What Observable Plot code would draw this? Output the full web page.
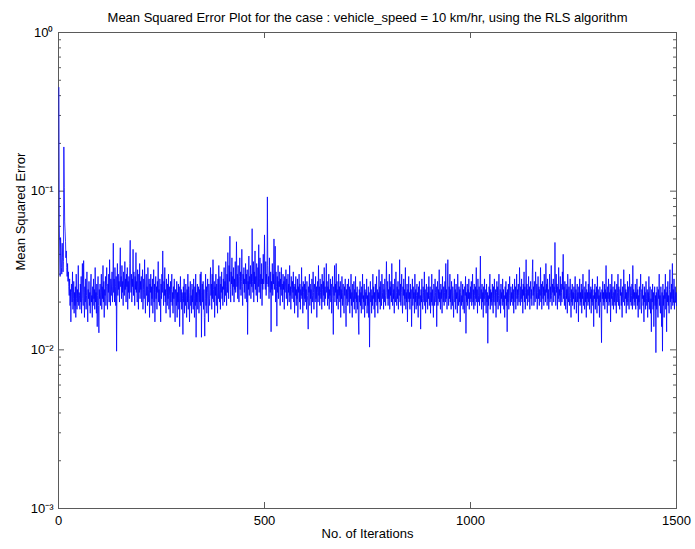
<!DOCTYPE html>
<html>
<head>
<meta charset="utf-8">
<script src="https://cdn.jsdelivr.net/npm/d3@7"></script>
<script src="https://cdn.jsdelivr.net/npm/@observablehq/plot@0.6"></script>
<style>
  html, body { margin: 0; padding: 0; background: #fff; }
  #chart { width: 695px; height: 549px; }
</style>
</head>
<body>
<div id="chart"></div>
<script>
const titleText = "Mean Squared Error Plot for the case : vehicle_speed = 10 km/hr, using the RLS algorithm";
const xLabel = "No. of Iterations";
const yLabel = "Mean Squared Error";
const xTickValues = [0, 500, 1000, 1500];
const yTickValues = [1e-3, 1e-2, 1e-1, 1];
const yTickLabels = ["10⁻³", "10⁻²", "10⁻¹", "10⁰"];

// Mean squared error per iteration, in units of 1e-4
const mseE4 = [
4500,620,400,290,510,440,330,300,470,380,310,360,1900,1050,640,560,480,380,420,330,290,350,270,310,250,220,280,190,240,150,230,260,200,310,180,210,270,170,230,190,250,160,300,210,180,240,200,340,190,230,
220,180,260,200,290,170,240,350,210,190,365,230,160,250,200,280,180,220,310,200,150,240,210,270,190,230,170,260,300,200,220,160,250,190,280,210,240,180,330,200,230,170,260,140,220,290,190,128,240,210,
260,190,230,300,180,250,210,340,200,270,160,240,220,290,190,250,330,210,180,260,230,300,200,370,240,190,280,220,260,310,200,250,470,230,280,200,330,250,190,290,98,260,350,220,300,240,270,200,320,440,
250,290,210,340,230,270,190,310,260,220,360,240,280,200,300,250,330,180,270,230,290,210,350,490,260,230,300,200,280,250,430,220,310,260,190,290,240,410,230,270,200,320,250,180,300,230,350,210,270,240,
290,200,260,320,180,240,280,210,370,230,170,260,300,220,250,190,330,240,200,280,160,260,230,300,190,250,210,280,170,240,320,200,260,150,230,290,210,250,180,270,230,360,200,240,190,280,220,150,260,210,
300,230,420,250,190,270,220,330,200,240,170,280,230,190,260,210,300,180,250,220,160,270,200,240,300,190,230,170,250,210,280,200,150,240,220,190,270,160,230,200,260,180,250,140,220,290,200,240,180,230,
210,125,250,200,280,170,230,190,260,220,160,240,200,300,180,250,210,150,230,270,190,220,170,260,200,240,180,280,210,160,250,190,300,120,230,200,260,180,220,250,170,240,200,300,190,310,120,230,260,200,
270,180,240,160,122,210,300,190,250,170,230,280,200,150,260,210,190,240,330,220,260,180,300,210,370,240,200,270,160,250,220,300,190,260,230,170,280,210,340,240,200,290,180,260,230,310,210,250,190,280,
240,330,200,270,220,360,250,190,300,230,410,260,210,340,270,520,240,200,310,260,380,220,290,250,330,200,280,240,360,230,270,480,250,300,210,340,260,200,290,380,240,310,220,270,430,250,190,300,260,330,
230,280,210,350,260,300,200,320,125,270,240,390,220,290,260,340,210,300,250,580,270,230,360,200,310,260,420,240,290,220,350,270,200,330,250,460,230,280,380,210,300,260,350,190,280,240,400,260,310,530,
280,240,360,220,300,260,920,340,250,290,210,380,260,230,310,130,270,240,350,220,300,260,500,240,280,450,200,310,250,141,290,230,340,210,270,250,310,190,280,240,330,220,260,200,300,240,270,180,290,230,
260,320,210,280,240,190,300,230,260,200,340,220,250,180,290,240,210,270,230,310,200,250,170,260,220,290,190,240,210,280,160,250,230,300,200,260,180,240,220,330,210,250,170,270,230,190,260,210,290,200,
240,180,270,220,200,135,250,230,300,190,260,210,240,170,280,220,200,310,230,180,260,240,200,290,210,250,160,230,270,200,340,220,250,190,280,230,210,260,180,300,240,200,270,220,330,190,250,210,240,350,
230,270,190,250,210,300,180,240,220,280,200,260,170,230,290,210,125,250,220,340,200,260,230,350,190,270,210,240,180,300,220,250,200,270,160,240,210,290,190,230,260,200,170,250,220,280,190,140,240,210,
260,190,230,280,200,250,170,240,210,300,190,230,160,260,220,200,270,180,240,210,290,170,230,200,250,180,220,150,125,240,200,270,190,230,170,250,210,300,180,220,200,260,160,240,190,230,210,280,170,220,
190,250,160,230,104,210,270,200,240,170,220,190,300,210,250,180,230,160,260,200,220,290,190,240,170,230,210,320,200,250,180,270,220,190,300,230,210,260,180,240,200,280,220,190,250,360,230,210,270,190,
240,210,300,180,250,220,270,200,350,230,190,260,210,240,170,280,220,200,310,230,190,250,210,270,180,240,220,370,200,260,190,230,300,210,170,250,220,280,190,240,210,330,180,230,200,260,150,240,210,290,
200,230,180,260,210,240,140,220,280,190,250,210,230,170,300,200,240,180,220,260,190,230,160,250,210,270,190,220,135,240,200,280,210,180,250,230,200,310,190,240,170,220,260,200,230,180,250,210,290,190,
220,250,170,230,200,300,190,240,210,160,260,220,190,280,230,200,250,140,220,270,190,240,210,320,200,230,180,260,210,240,170,290,220,200,250,190,230,270,200,350,210,240,180,260,370,220,190,250,210,300,
200,240,180,270,220,190,250,210,160,230,280,200,240,180,260,210,230,170,300,220,190,250,200,240,150,230,270,190,220,200,260,180,240,210,170,250,220,290,127,230,200,260,190,240,210,280,180,230,200,250,
210,270,190,230,300,200,240,180,260,220,190,250,210,330,200,240,170,280,220,200,250,190,230,390,210,240,180,260,200,230,160,250,210,280,190,220,240,170,260,200,230,110,220,190,250,210,300,180,240,200,
230,190,260,210,170,250,200,280,220,190,240,160,230,270,200,250,180,220,300,210,190,240,170,260,210,230,190,280,200,240,180,220,160,250,210,270,190,230,130,240,200,260,180,220,290,210,190,250,200,230,
210,260,190,240,170,230,280,200,250,180,220,300,210,240,190,260,220,200,330,230,190,250,210,280,200,240,170,260,220,310,200,250,180,230,370,210,260,190,240,220,290,200,250,180,230,270,210,240,190,300,
370,220,250,190,270,230,200,310,240,210,260,180,230,290,210,250,190,240,220,330,200,260,180,230,270,210,250,190,300,220,240,200,350,230,260,190,280,210,240,180,230,300,200,250,210,340,220,190,260,230,
280,200,250,220,475,240,190,300,230,260,180,250,210,330,200,240,220,290,190,260,230,200,310,240,400,210,250,190,270,220,180,260,210,240,170,300,220,200,250,190,230,280,210,160,240,200,260,190,230,210,
250,180,230,290,200,240,170,220,260,200,230,150,250,210,280,190,230,200,260,170,240,210,300,190,220,250,180,230,200,270,160,240,210,230,190,260,200,320,180,230,210,250,170,240,200,280,190,220,140,240,
210,260,180,230,200,250,170,290,210,240,190,220,160,250,200,230,180,111,240,210,270,190,230,200,260,180,240,210,340,200,230,170,250,210,280,190,230,200,260,150,240,210,300,190,220,250,180,230,200,270,
190,240,210,170,260,200,230,300,190,250,210,180,240,220,280,190,230,160,250,210,200,320,220,190,260,210,240,170,230,200,270,190,250,210,180,300,230,200,250,190,220,260,180,340,210,240,190,230,200,260,
180,230,210,280,190,240,160,220,200,250,180,230,300,200,170,240,210,260,190,220,150,250,200,230,180,270,210,190,240,160,230,200,290,180,220,250,170,210,130,240,200,260,180,230,140,210,250,190,220,96,
230,180,250,200,160,240,210,300,190,220,170,250,200,140,230,98,260,190,220,160,240,210,300,180,230,130,250,200,270,190,220,170,240,320,200,230,180,260,210,350,190,240,200,280,180,220,250,200,230,190
];

const data = mseE4.map((v, k) => ({iteration: k + 1, mse: v / 1e4}));

const yMajorInner = [1e-2, 1e-1];
const yMinor = [1e-3, 1e-2, 1e-1].flatMap(d => [2,3,4,5,6,7,8,9].map(m => m * d));
const xInner = [500, 1000];

const W = 695, H = 549;
const mL = 58, mR = 19, mT = 32, mB = 41;
const fw = W - mL - mR, fh = H - mT - mB;
const axisColor = "#5a5a5a";

const chart = Plot.plot({
  width: W,
  height: H,
  marginLeft: mL,
  marginRight: mR,
  marginTop: mT,
  marginBottom: mB,
  style: {fontFamily: "'Liberation Sans', Arial, sans-serif", fontSize: "13px", background: "#fff", color: "#000"},
  x: {domain: [0, 1500], ticks: xTickValues, label: null},
  y: {type: "log", domain: [1e-3, 1], ticks: yTickValues, label: null},
  marks: [
    // inward ticks (MATLAB style)
    Plot.tickX(xInner, {x: d => d, insetTop: fh - 6, stroke: axisColor}),
    Plot.tickX(xInner, {x: d => d, insetBottom: fh - 6, stroke: axisColor}),
    Plot.tickY(yMajorInner, {y: d => d, insetRight: fw - 6, stroke: axisColor}),
    Plot.tickY(yMajorInner, {y: d => d, insetLeft: fw - 6, stroke: axisColor}),
    Plot.tickY(yMinor, {y: d => d, insetRight: fw - 3, stroke: axisColor}),
    Plot.tickY(yMinor, {y: d => d, insetLeft: fw - 3, stroke: axisColor}),
    Plot.frame({stroke: axisColor}),
    Plot.line(data, {x: "iteration", y: "mse", stroke: "#0000ff", strokeWidth: 0.8}),
    Plot.axisX({ticks: xTickValues, tickSize: 0, tickPadding: 7, tickFormat: d => String(d), label: null, fontSize: 13}),
    Plot.axisY({ticks: yTickValues, tickSize: 0, tickPadding: 5, tickFormat: d => yTickLabels[yTickValues.indexOf(d)], label: null, fontSize: 13}),
    Plot.text([titleText], {text: d => d, frameAnchor: "top", dy: -20, fontSize: 13}),
    Plot.text([xLabel], {text: d => d, frameAnchor: "bottom", dy: 29, fontSize: 13}),
    Plot.text([yLabel], {text: d => d, frameAnchor: "left", rotate: -90, dx: -38, fontSize: 13})
  ]
});
document.getElementById("chart").appendChild(chart);
</script>
</body>
</html>
